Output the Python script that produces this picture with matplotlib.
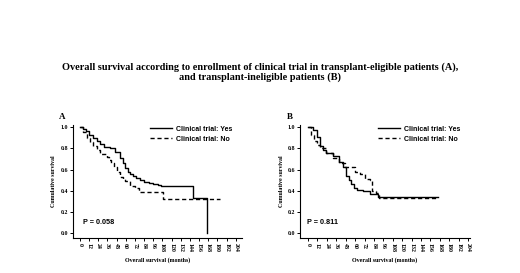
import matplotlib
matplotlib.use("Agg")
import matplotlib.pyplot as plt

# Panel A: transplant-eligible patients (step points: months, survival)
a_yes_t = [0, 4, 8, 12, 17, 22, 26, 31, 39, 46, 52, 56, 59, 63, 66, 70, 74, 79, 84, 90, 96, 102, 106, 148, 166]
a_yes_s = [1.0, 0.98, 0.96, 0.93, 0.90, 0.87, 0.84, 0.81, 0.80, 0.77, 0.71, 0.66, 0.61, 0.58, 0.56, 0.54, 0.52, 0.50, 0.48, 0.47, 0.46, 0.45, 0.44, 0.33, 0.0]
a_no_t = [0, 4, 9, 13, 17, 22, 26, 35, 38, 41, 45, 48, 52, 56, 59, 65, 72, 78, 100, 109, 183]
a_no_s = [1.0, 0.95, 0.90, 0.86, 0.82, 0.78, 0.745, 0.72, 0.69, 0.66, 0.62, 0.58, 0.53, 0.51, 0.49, 0.44, 0.43, 0.39, 0.39, 0.32, 0.32]

# Panel B: transplant-ineligible patients
b_yes_t = [0, 6, 11, 15, 19, 23, 32, 40, 45, 49, 52, 55, 59, 62, 70, 79, 89, 166]
b_yes_s = [1.0, 0.975, 0.91, 0.82, 0.78, 0.76, 0.725, 0.67, 0.62, 0.54, 0.50, 0.46, 0.43, 0.41, 0.40, 0.37, 0.34, 0.34]
b_no_t = [0, 4, 8, 12, 15, 23, 32, 40, 47, 55, 60, 66, 72, 79, 82, 87, 91, 166]
b_no_s = [1.0, 0.93, 0.87, 0.83, 0.80, 0.76, 0.71, 0.66, 0.625, 0.625, 0.58, 0.56, 0.51, 0.50, 0.40, 0.38, 0.33, 0.33]

x_ticks = list(range(0, 205, 12))
y_ticks = [0.0, 0.2, 0.4, 0.6, 0.8, 1.0]
p_values = ["P = 0.058", "P = 0.811"]
panel_letters = ["A", "B"]
title_lines = [
    "Overall survival according to enrollment of clinical trial in transplant-eligible patients (A),",
    "and transplant-ineligible patients (B)",
]

SERIF = "Liberation Serif"
SANS = "Liberation Sans"

fig = plt.figure(figsize=(5.2, 2.73), dpi=100)
fig.patch.set_facecolor("white")

for y, line in zip([0.755, 0.717], title_lines):
    fig.text(0.5, y, line, ha="center", va="center", fontsize=7.4,
             fontweight="bold", family=SERIF)

ax_a = fig.add_axes([0.140, 0.128, 0.325, 0.414])
ax_b = fig.add_axes([0.577, 0.128, 0.327, 0.414])

panels = [
    (ax_a, a_yes_t, a_yes_s, a_no_t, a_no_s, (-9.2, 211.8), 0.06),
    (ax_b, b_yes_t, b_yes_s, b_no_t, b_no_s, (-10.2, 206.5), 0.04),
]

for i, (ax, yt, ys, nt, ns, xlim, px) in enumerate(panels):
    ax.step(yt, ys, where="post", color="black", lw=1.0, label="Clinical trial: Yes")
    ax.step(nt, ns, where="post", color="black", lw=1.0, ls=(0, (3, 2)),
            label="Clinical trial: No")

    ax.set_xlim(*xlim)
    ax.set_ylim(-0.047, 1.02)
    ax.spines["top"].set_visible(False)
    ax.spines["right"].set_visible(False)
    for s in ("left", "bottom"):
        ax.spines[s].set_linewidth(0.8)

    ax.set_xticks(x_ticks)
    ax.set_xticklabels([str(t) for t in x_ticks], rotation=-90, fontsize=4.2,
                       fontweight="bold", family=SERIF)
    ax.set_yticks(y_ticks)
    ax.set_yticklabels([f"{v:.1f}" for v in y_ticks], fontsize=4.2,
                       fontweight="bold", family=SERIF)
    ax.tick_params(length=2, width=0.7, pad=1.5)

    ax.set_xlabel("Overall survival (months)", fontsize=4.3, fontweight="bold",
                  family=SERIF, labelpad=4)
    ax.set_ylabel("Cumulative survival", fontsize=4.3, fontweight="bold",
                  family=SERIF, labelpad=3)

    ax.legend(loc="upper left", bbox_to_anchor=(0.44, 1.02), frameon=False,
              handlelength=3.2, handletextpad=0.6, borderaxespad=0,
              labelspacing=0.45, prop={"family": SANS, "weight": "bold", "size": 5})

    ax.text(px, 0.14, p_values[i], transform=ax.transAxes, fontsize=5.2,
            fontweight="bold", family=SANS, va="center")
    ax.text(-0.08, 1.07, panel_letters[i], transform=ax.transAxes, fontsize=6.5,
            fontweight="bold", family=SERIF, va="center")

fig.savefig("out.png", dpi=100)
